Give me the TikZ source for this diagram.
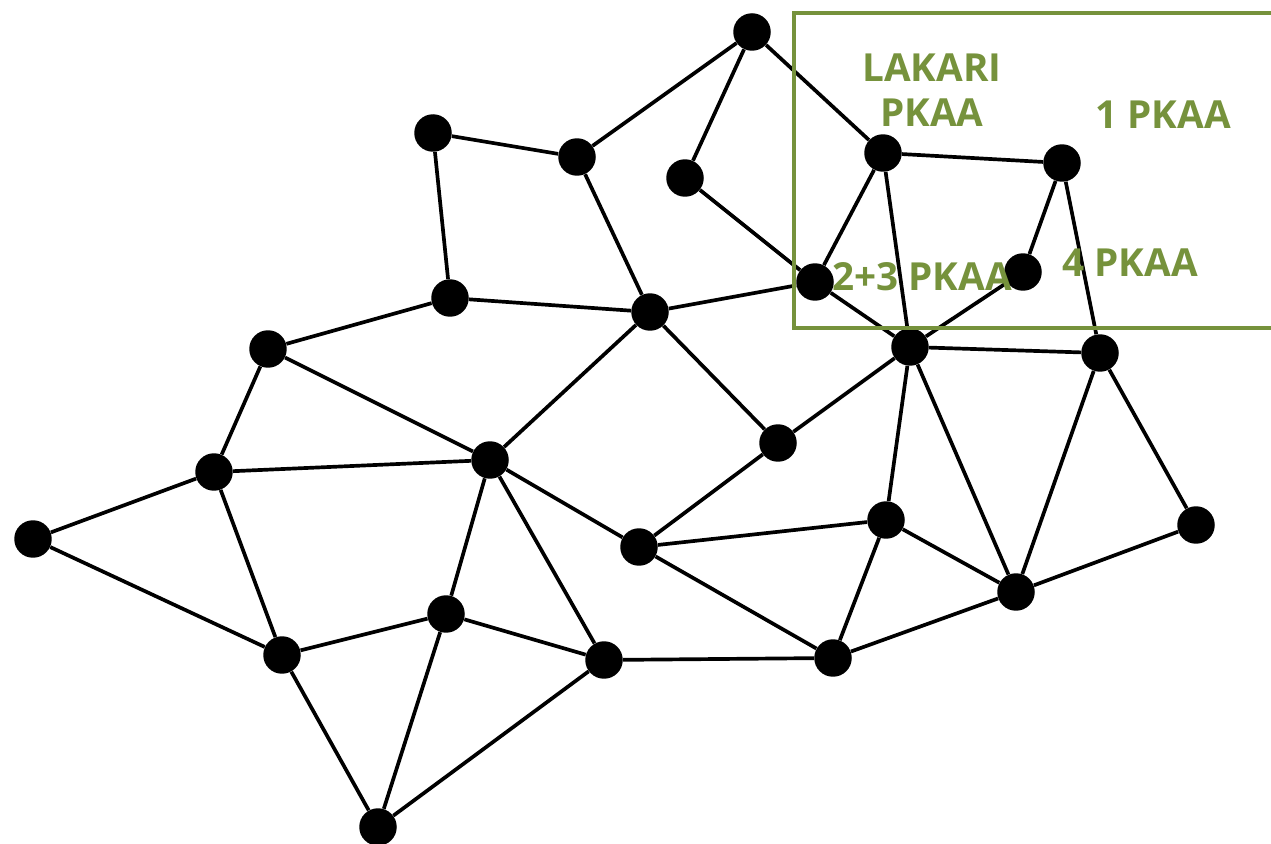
\documentclass[tikz,border=0pt]{standalone}
\usepackage{fontspec}
\setmainfont{Open Sans}
\usepackage{xcolor}
\definecolor{pkaagreen}{HTML}{76923C}

\begin{document}
\begin{tikzpicture}[x=0.02cm, y=-0.02cm,
		vertex/.style={circle, fill=black, inner sep=0pt, minimum size=0.75cm},
		link/.style={line width=2.1pt},
		area/.style={text=pkaagreen, font=\bfseries\fontsize{22}{25.5}\selectfont, align=center, inner sep=0pt}]
	\clip (0,0) rectangle (1271,844);
	\node[vertex] (1) at (752,32) {};
	\node[vertex] (2) at (433,133) {};
	\node[vertex] (3) at (577,157) {};
	\node[vertex] (4) at (685,178) {};
	\node[vertex] (5) at (883,153) {};
	\node[vertex] (6) at (1062,163) {};
	\node[vertex] (7) at (815,282) {};
	\node[vertex] (8) at (1023,272) {};
	\node[vertex] (9) at (450,298) {};
	\node[vertex] (10) at (650,312) {};
	\node[vertex] (11) at (268,349) {};
	\node[vertex] (12) at (910,347) {};
	\node[vertex] (13) at (1100,353) {};
	\node[vertex] (14) at (778,443) {};
	\node[vertex] (15) at (490,460) {};
	\node[vertex] (16) at (214,472) {};
	\node[vertex] (17) at (33,539) {};
	\node[vertex] (18) at (639,547) {};
	\node[vertex] (19) at (886,520) {};
	\node[vertex] (20) at (1196,525) {};
	\node[vertex] (21) at (1016,592) {};
	\node[vertex] (22) at (446,614) {};
	\node[vertex] (23) at (282,655) {};
	\node[vertex] (24) at (604,660) {};
	\node[vertex] (25) at (833,658) {};
	\node[vertex] (26) at (378,827) {};

	\foreach \a/\b in {1/3, 1/4, 1/5, 2/3, 2/9, 3/10, 4/7, 5/6, 5/7, 5/12, 6/8, 6/13,
		7/10, 7/12, 8/12, 9/10, 9/11, 10/14, 10/15, 11/15, 11/16, 12/13, 12/14, 12/19,
		12/21, 13/20, 13/21, 14/18, 15/16, 15/18, 15/22, 15/24, 16/17, 16/23, 17/23,
		18/19, 18/25, 19/21, 19/25, 20/21, 21/25, 22/23, 22/24, 22/26, 23/26, 24/25, 24/26}
		\draw[link] (\a) -- (\b);

	% green frame, open on the right
	\draw[pkaagreen, line width=2.6pt] (794,13) rectangle (1290,328);
	\node[area] (lakari) at (932,90) {LAKARI\\PKAA};
	\node[area] (one) at (1163,115) {1 PKAA};
	\node[area] (twothree) at (922,277) {2+3 PKAA};
	\node[area] (four) at (1130,263) {4 PKAA};
\end{tikzpicture}
\end{document}
